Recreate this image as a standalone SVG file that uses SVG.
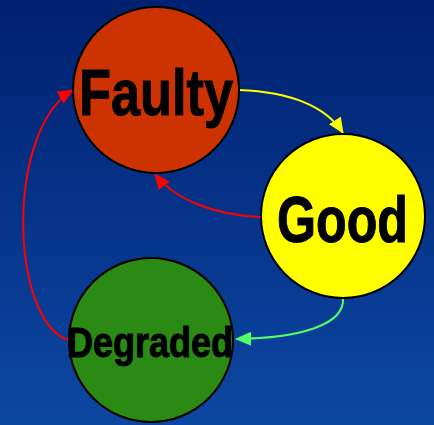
<svg xmlns="http://www.w3.org/2000/svg" width="434" height="425" viewBox="0 0 434 425">
<defs>
<linearGradient id="bg" x1="0" y1="0" x2="0" y2="1">
<stop offset="0" stop-color="#002070"/>
<stop offset="1" stop-color="#0c47a2"/>
</linearGradient>
<marker id="ar" markerWidth="16" markerHeight="14" refX="15" refY="7" orient="auto" markerUnits="userSpaceOnUse"><path d="M0,0 L16,7 L0,14 Z" fill="#ff0000"/></marker>
<marker id="ay" markerWidth="16" markerHeight="14" refX="15" refY="7" orient="auto" markerUnits="userSpaceOnUse"><path d="M0,0 L16,7 L0,14 Z" fill="#ffff00"/></marker>
<marker id="ag" markerWidth="16" markerHeight="14" refX="15" refY="7" orient="auto" markerUnits="userSpaceOnUse"><path d="M0,0 L16,7 L0,14 Z" fill="#55ff66"/></marker>
</defs>
<style>
.node{stroke:#000;stroke-width:2}
.lbl{font-family:"Liberation Sans",Arial,sans-serif;font-weight:bold;fill:#000;stroke:#000;stroke-width:0.8;text-anchor:start}
.edge{fill:none;stroke-width:2}
</style>
<rect width="434" height="425" fill="url(#bg)"/>
<g id="connectors">
<path class="edge" stroke="#ffff00" d="M239,90 C290,92 325,105 343,133" marker-end="url(#ay)"/>
<path class="edge" stroke="#ff0000" d="M260,217 C215,215 175,200 155,174" marker-end="url(#ar)"/>
<path class="edge" stroke="#ff0000" d="M68,340 C10,320 5,130 73,90" marker-end="url(#ar)"/>
<path class="edge" stroke="#55ff66" d="M343,298 C345,325 300,338 236,339" marker-end="url(#ag)"/>
</g>
<g id="faulty">
<circle class="node" cx="156" cy="90" r="83" fill="#cc3300"/>
<text class="lbl" transform="translate(79,115) scale(1,1.26)" x="0" y="0" font-size="52" textLength="154" lengthAdjust="spacingAndGlyphs">Faulty</text>
</g>
<g id="good">
<circle class="node" cx="343" cy="216" r="82" fill="#ffff00"/>
<text class="lbl" transform="translate(277,242) scale(1,1.28)" x="0" y="0" font-size="50" textLength="131" lengthAdjust="spacingAndGlyphs">Good</text>
</g>
<g id="degraded">
<circle class="node" cx="151" cy="340" r="82" fill="#2a8a14"/>
<text class="lbl" transform="translate(67,357) scale(1,1.16)" x="0" y="0" font-size="36" textLength="166" lengthAdjust="spacingAndGlyphs">Degraded</text>
</g>
</svg>
